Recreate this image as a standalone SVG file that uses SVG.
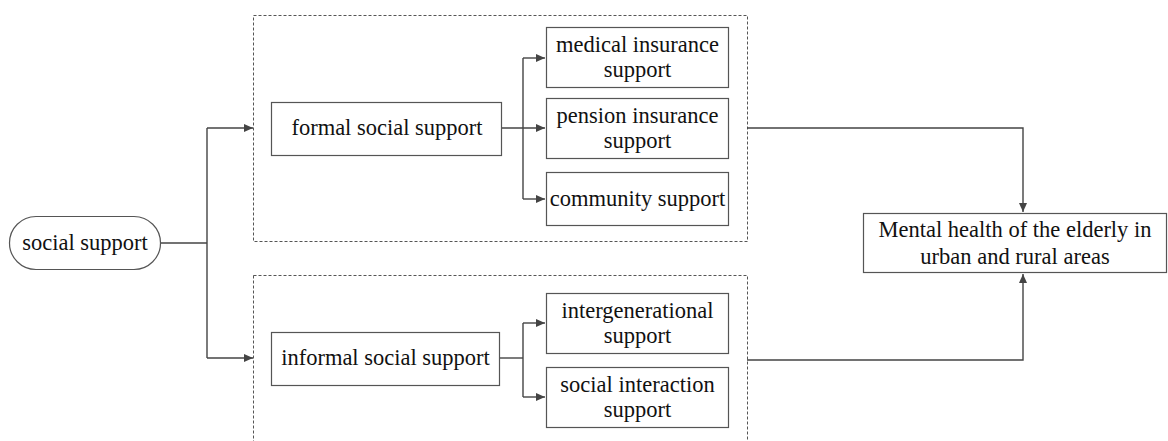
<svg xmlns="http://www.w3.org/2000/svg" width="1168" height="441" viewBox="0 0 1168 441">
<style>
text{font-family:"Liberation Serif","Times New Roman",serif;font-size:22.5px;fill:#111;text-anchor:middle}
.box{fill:#fff;stroke:#555;stroke-width:1.2}
.dash{fill:none;stroke:#555;stroke-width:1;stroke-dasharray:3,2}
.ln{fill:none;stroke:#444;stroke-width:1.4}
</style>
<defs>
<marker id="ah" markerWidth="10" markerHeight="8" refX="9" refY="4" orient="auto" markerUnits="userSpaceOnUse">
<path d="M0,0 L9,4 L0,8 Z" fill="#444"/>
</marker>
</defs>
<rect width="1168" height="441" fill="#fff"/>
<g id="group-formal"><rect class="dash" x="253.5" y="15.5" width="494" height="226"/></g>
<g id="group-informal"><rect class="dash" x="253.5" y="275.5" width="494" height="180"/></g>
<g id="connectors">
<path class="ln" d="M161,243 H207"/>
<path class="ln" d="M207,128 V358"/>
<path class="ln" d="M207,128 H253" marker-end="url(#ah)"/>
<path class="ln" d="M207,358 H253" marker-end="url(#ah)"/>
<path class="ln" d="M502,128 H545" marker-end="url(#ah)"/>
<path class="ln" d="M523,58 V199"/>
<path class="ln" d="M523,58 H545" marker-end="url(#ah)"/>
<path class="ln" d="M523,199 H545" marker-end="url(#ah)"/>
<path class="ln" d="M500,358 H523"/>
<path class="ln" d="M523,323 V397"/>
<path class="ln" d="M523,323 H545" marker-end="url(#ah)"/>
<path class="ln" d="M523,397 H545" marker-end="url(#ah)"/>
<path class="ln" d="M747,128 H1023 V212" marker-end="url(#ah)"/>
<path class="ln" d="M747,360 H1023 V274" marker-end="url(#ah)"/>
</g>
<g id="social-support"><rect class="box" x="9.5" y="216.5" width="151" height="53" rx="26.5"/><text x="85" y="250">social support</text></g>
<g id="formal-social-support"><rect class="box" x="271.5" y="102.5" width="230" height="53"/><text x="387" y="135">formal social support</text></g>
<g id="medical-insurance-support"><rect class="box" x="546.5" y="27.5" width="182" height="60"/><text x="637.5" y="52">medical insurance</text><text x="637.5" y="77">support</text></g>
<g id="pension-insurance-support"><rect class="box" x="546.5" y="98.5" width="182" height="60"/><text x="637.5" y="123">pension insurance</text><text x="637.5" y="148">support</text></g>
<g id="community-support"><rect class="box" x="546.5" y="172.5" width="182" height="53"/><text x="637.5" y="206">community support</text></g>
<g id="informal-social-support"><rect class="box" x="271.5" y="332.5" width="228" height="53"/><text x="385.5" y="365">informal social support</text></g>
<g id="intergenerational-support"><rect class="box" x="546.5" y="293.5" width="182" height="60"/><text x="637.5" y="318">intergenerational</text><text x="637.5" y="343">support</text></g>
<g id="social-interaction-support"><rect class="box" x="546.5" y="367.5" width="182" height="60"/><text x="637.5" y="392">social interaction</text><text x="637.5" y="417">support</text></g>
<g id="mental-health"><rect class="box" x="863.5" y="213.5" width="303" height="59"/><text x="1015" y="237">Mental health of the elderly in</text><text x="1015" y="264">urban and rural areas</text></g>
</svg>
